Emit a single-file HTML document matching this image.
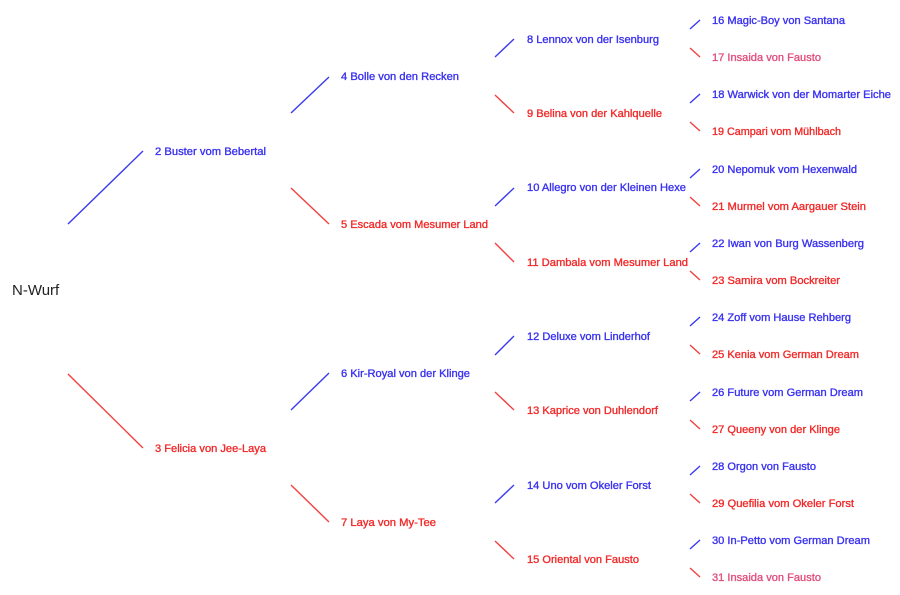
<!DOCTYPE html>
<html><head><meta charset="utf-8"><style>
html,body{margin:0;padding:0;background:#fff;width:900px;height:595px;overflow:hidden}
svg{display:block}
text{font-family:"Liberation Sans",Arial,sans-serif;font-size:11px;stroke-width:0.35}
.b{fill:#3a32f0;stroke:#3a32f0}.r{fill:#f22a2a;stroke:#f22a2a}.p{fill:#e0507e;stroke:#e0507e}
line{stroke-width:1.4}
.lb{stroke:#3a3af0}.lr{stroke:#f04040}
</style></head><body>
<svg width="900" height="595" viewBox="0 0 900 595">
<text x="12" y="295" style="font-size:15px;fill:#222;stroke:none">N-Wurf</text>
<line class="lb" x1="68" y1="224" x2="143" y2="151"/>
<line class="lr" x1="68" y1="374" x2="143" y2="448"/>
<text class="b" x="155" y="155" textLength="111" lengthAdjust="spacingAndGlyphs">2 Buster vom Bebertal</text>
<text class="r" x="155" y="452" textLength="111" lengthAdjust="spacingAndGlyphs">3 Felicia von Jee-Laya</text>
<line class="lb" x1="291" y1="113" x2="329" y2="77"/>
<line class="lr" x1="291" y1="188" x2="329" y2="224"/>
<line class="lb" x1="291" y1="410" x2="329" y2="373"/>
<line class="lr" x1="291" y1="485" x2="329" y2="522"/>
<text class="b" x="341" y="80" textLength="118" lengthAdjust="spacingAndGlyphs">4 Bolle von den Recken</text>
<text class="r" x="341" y="228" textLength="147" lengthAdjust="spacingAndGlyphs">5 Escada vom Mesumer Land</text>
<text class="b" x="341" y="377" textLength="129" lengthAdjust="spacingAndGlyphs">6 Kir-Royal von der Klinge</text>
<text class="r" x="341" y="526" textLength="95" lengthAdjust="spacingAndGlyphs">7 Laya von My-Tee</text>
<line class="lb" x1="495" y1="57" x2="514" y2="39"/>
<line class="lr" x1="495" y1="95" x2="514" y2="113"/>
<line class="lb" x1="495" y1="206" x2="514" y2="188"/>
<line class="lr" x1="495" y1="243" x2="514" y2="262"/>
<line class="lb" x1="495" y1="355" x2="514" y2="336"/>
<line class="lr" x1="495" y1="392" x2="514" y2="410"/>
<line class="lb" x1="495" y1="503" x2="514" y2="485"/>
<line class="lr" x1="495" y1="541" x2="514" y2="559"/>
<text class="b" x="527" y="43" textLength="132" lengthAdjust="spacingAndGlyphs">8 Lennox von der Isenburg</text>
<text class="r" x="527" y="117" textLength="135" lengthAdjust="spacingAndGlyphs">9 Belina von der Kahlquelle</text>
<text class="b" x="527" y="191" textLength="159" lengthAdjust="spacingAndGlyphs">10 Allegro von der Kleinen Hexe</text>
<text class="r" x="527" y="266" textLength="161" lengthAdjust="spacingAndGlyphs">11 Dambala vom Mesumer Land</text>
<text class="b" x="527" y="340" textLength="123" lengthAdjust="spacingAndGlyphs">12 Deluxe vom Linderhof</text>
<text class="r" x="527" y="414" textLength="131" lengthAdjust="spacingAndGlyphs">13 Kaprice von Duhlendorf</text>
<text class="b" x="527" y="489" textLength="124" lengthAdjust="spacingAndGlyphs">14 Uno vom Okeler Forst</text>
<text class="r" x="527" y="563" textLength="112" lengthAdjust="spacingAndGlyphs">15 Oriental von Fausto</text>
<g>
<line class="lb" x1="690" y1="29" x2="700" y2="20"/>
<line class="lr" x1="690" y1="48" x2="700" y2="57"/>
<line class="lb" x1="690" y1="103" x2="700" y2="94"/>
<line class="lr" x1="690" y1="122" x2="700" y2="131"/>
<line class="lb" x1="690" y1="178" x2="700" y2="169"/>
<line class="lr" x1="690" y1="197" x2="700" y2="206"/>
<line class="lb" x1="690" y1="252" x2="700" y2="243"/>
<line class="lr" x1="690" y1="271" x2="700" y2="280"/>
<line class="lb" x1="690" y1="326" x2="700" y2="317"/>
<line class="lr" x1="690" y1="345" x2="700" y2="354"/>
<line class="lb" x1="690" y1="401" x2="700" y2="392"/>
<line class="lr" x1="690" y1="420" x2="700" y2="429"/>
<line class="lb" x1="690" y1="475" x2="700" y2="466"/>
<line class="lr" x1="690" y1="494" x2="700" y2="503"/>
<line class="lb" x1="690" y1="549" x2="700" y2="540"/>
<line class="lr" x1="690" y1="568" x2="700" y2="577"/>
</g>
<text class="b" x="712" y="24" textLength="133" lengthAdjust="spacingAndGlyphs">16 Magic-Boy von Santana</text>
<text class="p" x="712" y="61" textLength="109" lengthAdjust="spacingAndGlyphs">17 Insaida von Fausto</text>
<text class="b" x="712" y="98" textLength="179" lengthAdjust="spacingAndGlyphs">18 Warwick von der Momarter Eiche</text>
<text class="r" x="712" y="135" textLength="129" lengthAdjust="spacingAndGlyphs">19 Campari vom Mühlbach</text>
<text class="b" x="712" y="173" textLength="145" lengthAdjust="spacingAndGlyphs">20 Nepomuk vom Hexenwald</text>
<text class="r" x="712" y="210" textLength="154" lengthAdjust="spacingAndGlyphs">21 Murmel vom Aargauer Stein</text>
<text class="b" x="712" y="247" textLength="152" lengthAdjust="spacingAndGlyphs">22 Iwan von Burg Wassenberg</text>
<text class="r" x="712" y="284" textLength="128" lengthAdjust="spacingAndGlyphs">23 Samira vom Bockreiter</text>
<text class="b" x="712" y="321" textLength="139" lengthAdjust="spacingAndGlyphs">24 Zoff vom Hause Rehberg</text>
<text class="r" x="712" y="358" textLength="147" lengthAdjust="spacingAndGlyphs">25 Kenia vom German Dream</text>
<text class="b" x="712" y="396" textLength="151" lengthAdjust="spacingAndGlyphs">26 Future vom German Dream</text>
<text class="r" x="712" y="433" textLength="128" lengthAdjust="spacingAndGlyphs">27 Queeny von der Klinge</text>
<text class="b" x="712" y="470" textLength="104" lengthAdjust="spacingAndGlyphs">28 Orgon von Fausto</text>
<text class="r" x="712" y="507" textLength="142" lengthAdjust="spacingAndGlyphs">29 Quefilia vom Okeler Forst</text>
<text class="b" x="712" y="544" textLength="158" lengthAdjust="spacingAndGlyphs">30 In-Petto vom German Dream</text>
<text class="p" x="712" y="581" textLength="109" lengthAdjust="spacingAndGlyphs">31 Insaida von Fausto</text>
</svg>
</body></html>
